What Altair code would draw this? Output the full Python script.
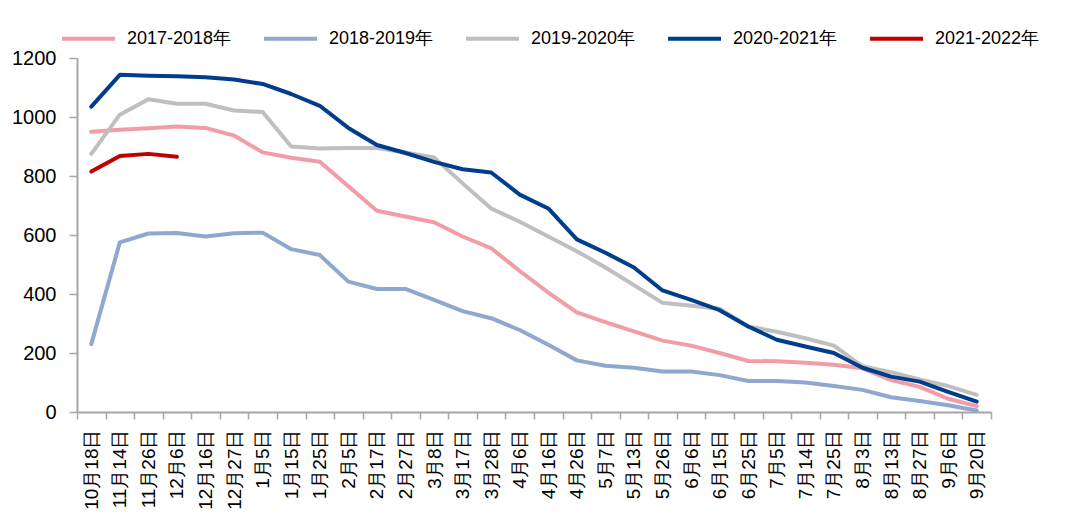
import altair as alt
import pandas as pd

dates = ["10月18日", "11月14日", "11月26日", "12月6日", "12月16日", "12月27日", "1月5日", "1月15日",
         "1月25日", "2月5日", "2月17日", "2月27日", "3月8日", "3月17日", "3月28日", "4月6日",
         "4月16日", "4月26日", "5月7日", "5月13日", "5月26日", "6月6日", "6月15日", "6月25日",
         "7月5日", "7月14日", "7月25日", "8月3日", "8月13日", "8月27日", "9月6日", "9月20日"]

s2017 = [950, 957, 962, 968, 963, 937, 880, 862, 848, 765, 682, 663, 643, 595, 555, 478,
         405, 338, 305, 273, 242, 225, 200, 173, 172, 167, 160, 148, 108, 85, 45, 20]
s2018 = [230, 575, 605, 607, 595, 606, 608, 552, 532, 442, 417, 417, 380, 342, 318, 278,
         228, 175, 157, 150, 137, 137, 125, 105, 105, 100, 88, 75, 50, 37, 23, 5]
s2019 = [875, 1008, 1060, 1045, 1045, 1022, 1017, 900, 893, 895, 895, 880, 863, 775, 690, 645,
         595, 545, 490, 430, 370, 360, 350, 290, 272, 250, 225, 155, 135, 110, 88, 58]
s2020 = [1035, 1143, 1140, 1138, 1135, 1127, 1112, 1078, 1038, 963, 905, 878, 848, 823, 812, 737,
         690, 585, 540, 490, 412, 380, 345, 290, 245, 222, 200, 150, 120, 103, 68, 35]
s2021 = [815, 868, 875, 865]

series_names = ["2017-2018年", "2018-2019年", "2019-2020年", "2020-2021年", "2021-2022年"]
series_vals = [s2017, s2018, s2019, s2020, s2021]
colors = ["#F29CA7", "#8EA8CF", "#BFBFBF", "#003D8A", "#C00000"]

rows = []
for name, vals in zip(series_names, series_vals):
    for i, v in enumerate(vals):
        rows.append({"date": dates[i], "value": v, "series": name, "idx": i})
df = pd.DataFrame(rows)

chart = alt.Chart(df).mark_line(strokeWidth=4, strokeJoin="round", strokeCap="round").encode(
    x=alt.X("date:N", sort=dates, bandPosition=0.5,
            scale=alt.Scale(type="band", paddingInner=0, paddingOuter=0),
            axis=alt.Axis(title=None, labelAngle=-90, labelFontSize=19, labelFont="Liberation Sans",
                          labelColor="#000000", labelPadding=10, tickBand="extent",
                          domainColor="#A6A6A6", domainWidth=2, tickColor="#A6A6A6",
                          tickWidth=1.5, tickSize=7)),
    y=alt.Y("value:Q", scale=alt.Scale(domain=[0, 1200], nice=False),
            axis=alt.Axis(title=None, values=[0, 200, 400, 600, 800, 1000, 1200], format="d",
                          labelFontSize=20, labelFont="Liberation Sans", labelColor="#000000",
                          labelPadding=13, grid=False, domainColor="#A6A6A6", domainWidth=2,
                          tickColor="#A6A6A6", tickWidth=1.5, tickSize=8)),
    color=alt.Color("series:N", sort=series_names,
                    scale=alt.Scale(domain=series_names, range=colors),
                    legend=alt.Legend(title=None, orient="none", direction="horizontal",
                                      legendX=-17, legendY=-48, columns=5,
                                      symbolType="stroke", symbolSize=2809, symbolStrokeWidth=4,
                                      labelFont="Liberation Sans", labelFontSize=18,
                                      labelColor="#000000", labelOffset=10, columnPadding=24,
                                      labelLimit=200)),
    order=alt.Order("idx:Q"),
).properties(
    width=914, height=354,
    autosize=alt.AutoSizeParams(type="none"),
    padding={"left": 69, "top": 50, "right": 72, "bottom": 100},
).configure(background="#FFFFFF").configure_view(stroke=None)

chart.save("out.html", embed_options={"renderer": "svg", "actions": False})
